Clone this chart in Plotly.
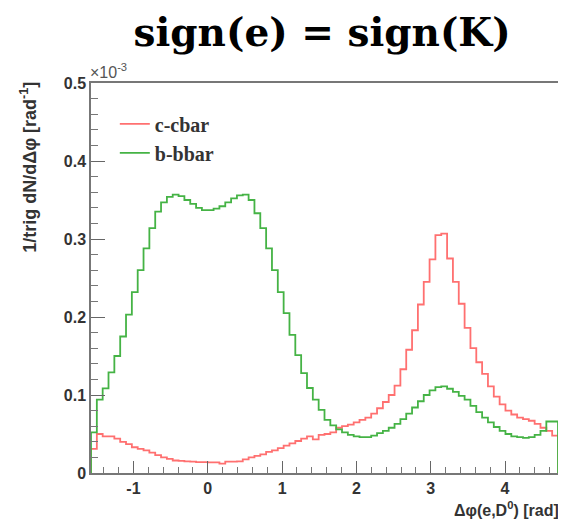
import numpy as np
import plotly.graph_objects as go

# Histogram definition: 80 bins over [-pi/2, 3pi/2]
x_min = -np.pi / 2
x_max = 3 * np.pi / 2
n_bins = 80

series_names = ["c-cbar", "b-bbar"]

# values in units of 1e-3
ccbar = [0.031, 0.050, 0.047, 0.047, 0.044, 0.040, 0.037, 0.033, 0.031, 0.029,
         0.026, 0.023, 0.020, 0.018, 0.016, 0.0155, 0.015, 0.0145, 0.014, 0.014,
         0.0135, 0.0135, 0.012, 0.0145, 0.0145, 0.015, 0.0175, 0.020, 0.022, 0.024,
         0.027, 0.029, 0.032, 0.035, 0.038, 0.041, 0.044, 0.047, 0.043, 0.049,
         0.050, 0.052, 0.058, 0.060, 0.062, 0.065, 0.068, 0.071, 0.076, 0.083,
         0.091, 0.100, 0.112, 0.133, 0.158, 0.183, 0.216, 0.245, 0.274, 0.305,
         0.307, 0.275, 0.245, 0.217, 0.186, 0.160, 0.142, 0.127, 0.111, 0.098,
         0.088, 0.080, 0.075, 0.071, 0.069, 0.067, 0.063, 0.058, 0.054, 0.048]

bbbar = [0.052, 0.094, 0.1085, 0.129, 0.150, 0.175, 0.203, 0.232, 0.260, 0.288,
         0.314, 0.335, 0.347, 0.354, 0.357, 0.355, 0.350, 0.345, 0.340, 0.337,
         0.337, 0.339, 0.342, 0.347, 0.352, 0.356, 0.357, 0.350, 0.333, 0.314,
         0.288, 0.260, 0.232, 0.205, 0.177, 0.151, 0.128, 0.109, 0.094, 0.081,
         0.068, 0.061, 0.056, 0.052, 0.049, 0.047, 0.046, 0.046, 0.048, 0.051,
         0.054, 0.058, 0.063, 0.069, 0.076, 0.084, 0.092, 0.100, 0.106, 0.110,
         0.111, 0.108, 0.104, 0.099, 0.094, 0.086, 0.078, 0.071, 0.065, 0.059,
         0.054, 0.050, 0.047, 0.046, 0.045, 0.046, 0.049, 0.054, 0.066, 0.066]

x_tick_vals = [-1, 0, 1, 2, 3, 4]
x_tick_text = ["-1", "0", "1", "2", "3", "4"]
y_tick_vals = [0, 0.1, 0.2, 0.3, 0.4, 0.5]
y_tick_text = ["0", "0.1", "0.2", "0.3", "0.4", "0.5"]

colors = ["#ff7070", "#45b345"]

edges = np.linspace(x_min, x_max, n_bins + 1)


def step_xy(vals):
    xs = [edges[0]] + list(edges) + [edges[-1]]
    ys = [0] + list(vals) + [vals[-1], 0]
    return xs, ys


fig = go.Figure()
for name, vals, col in zip(series_names, [ccbar, bbbar], colors):
    xs, ys = step_xy(vals)
    fig.add_trace(go.Scatter(x=xs, y=ys, mode="lines", name=name,
                             line=dict(color=col, width=1.8, shape="hv")))

tick_font = dict(family="Liberation Sans, Arial, sans-serif", size=16, color="#333333", weight="bold")

fig.update_layout(
    width=558, height=520,
    margin=dict(l=83, r=6, t=75, b=55),
    paper_bgcolor="white", plot_bgcolor="white",
    title=dict(text="<b>sign(e) = sign(K)</b>", x=0.563, xanchor="center",
               y=0.953, yanchor="middle", yref="container",
               font=dict(family="DejaVu Serif, serif", size=39, color="black")),
    showlegend=True,
    legend=dict(x=0.051, y=0.945, xanchor="left", yanchor="top",
                bgcolor="rgba(0,0,0,0)", borderwidth=0,
                font=dict(family="Liberation Serif, Times New Roman, serif", size=20,
                          color="#333333", weight="bold"),
                itemwidth=30, tracegroupgap=0),
    xaxis=dict(range=[x_min, x_max], showgrid=False, zeroline=False,
               showline=True, linecolor="#777777", linewidth=1.5, mirror=True,
               ticks="inside", ticklen=12, tickwidth=1.3, tickcolor="#666666",
               tickvals=x_tick_vals, ticktext=x_tick_text, tickfont=tick_font,
               minor=dict(ticks="inside", ticklen=6, tickwidth=1.1, tickcolor="#777777",
                          tick0=0, dtick=0.2, showgrid=False)),
    yaxis=dict(range=[0, 0.5], showgrid=False, zeroline=False,
               showline=True, linecolor="#777777", linewidth=1.5, mirror=True,
               ticks="inside", ticklen=14, tickwidth=1.3, tickcolor="#666666",
               tickvals=y_tick_vals, ticktext=y_tick_text, tickfont=tick_font,
               minor=dict(ticks="inside", ticklen=7, tickwidth=1.1, tickcolor="#777777",
                          tick0=0, dtick=0.02, showgrid=False)),
)

fig.add_annotation(text="1/trig dN/dΔφ [rad<sup>-1</sup>]", textangle=-90,
                   xref="paper", yref="paper", x=-0.134, y=1.008,
                   xanchor="center", yanchor="top", showarrow=False,
                   font=dict(family="Liberation Sans, Arial, sans-serif", size=18,
                             color="#333333", weight="bold"))
fig.add_annotation(text="Δφ(e,D<sup>0</sup>) [rad]",
                   xref="paper", yref="paper", x=1.006, y=-0.092,
                   xanchor="right", yanchor="middle", showarrow=False,
                   font=dict(family="Liberation Sans, Arial, sans-serif", size=16,
                             color="#333333", weight="bold"))
fig.add_annotation(text="×10<sup>-3</sup>",
                   xref="paper", yref="paper", x=-0.0064, y=1.0,
                   xanchor="left", yanchor="bottom", showarrow=False,
                   font=dict(family="Liberation Sans, Arial, sans-serif", size=16,
                             color="#555555"))

fig.write_html("out.html")
